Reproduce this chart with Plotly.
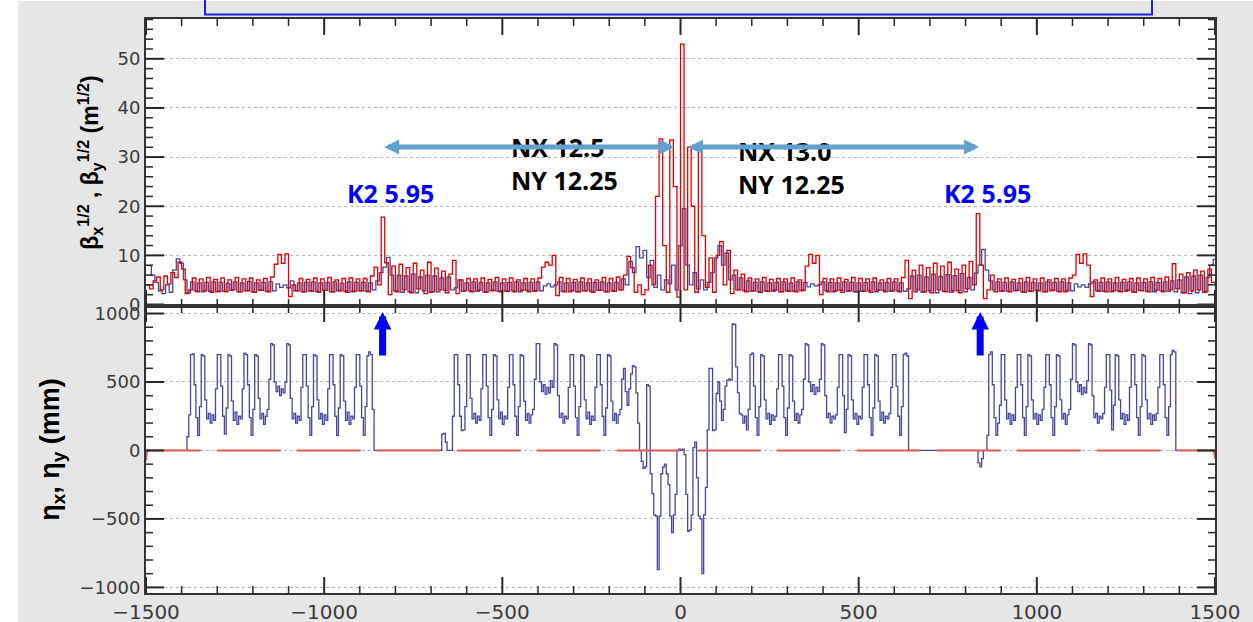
import plotly.graph_objects as go

# ---------------- data ----------------
BETA_S0, BETA_DS = -1500, 10
BETA_Y_OFFSET = 5   # beta_y samples sit half a step after beta_x samples (QD vs QF)

# sqrt(beta_x) [m^1/2]  (red)
sqrt_beta_x = [
    4.0, 3.2, 4.8, 5.6, 3.0, 5.8, 4.2, 6.5, 5.5, 8.6, 7.2, 2.2, 3.0, 5.4, 2.6, 5.2, 2.8, 5.5, 2.5, 5.1,
    2.7, 5.4, 2.6, 5.0, 3.0, 5.5, 2.6, 5.2, 2.8, 5.4, 2.5, 5.0, 2.9, 5.3, 2.6, 5.6, 8.2, 10.2, 8.4, 10.3,
    1.6, 4.0, 2.8, 5.3, 2.6, 5.1, 2.7, 5.4, 2.5, 5.2, 2.9, 5.5, 2.6, 5.0, 2.8, 5.3, 2.5, 5.4, 2.7, 5.2,
    2.8, 5.3, 2.6, 5.8, 7.6, 4.0, 17.8, 8.5, 2.0, 7.8, 2.6, 8.2, 3.0, 7.5, 2.4, 8.4, 3.2, 7.0, 2.2, 8.6,
    2.6, 7.4, 3.0, 6.8, 2.4, 6.2, 9.0, 2.2, 5.0, 2.8, 5.3, 2.6, 5.2, 2.9, 5.4, 2.5, 5.1, 2.8, 5.5, 2.6,
    5.2, 2.7, 5.4, 2.6, 5.0, 2.9, 5.3, 2.6, 5.2, 2.8, 5.4, 7.6, 8.6, 8.0, 10.0, 1.8, 5.5, 2.6, 5.3, 2.8,
    5.1, 2.6, 5.4, 2.8, 5.2, 2.5, 5.0, 2.9, 5.5, 2.6, 5.3, 2.7, 5.6, 3.0, 6.0, 9.8, 7.5, 2.5, 4.0, 2.0,
    3.0, 8.0, 4.0, 22.0, 33.7, 12.0, 2.5, 33.5, 24.0, 1.5, 53.0, 3.0, 32.0, 20.0, 2.5, 31.5, 14.0, 3.5, 9.5, 2.5,
    10.0, 12.8, 4.0, 11.0, 2.2, 7.0, 3.0, 6.2, 2.6, 5.4, 2.8, 5.2, 2.5, 5.5, 2.7, 5.1, 2.9, 5.3, 2.6, 5.2,
    2.7, 5.4, 2.6, 5.0, 2.9, 7.8, 10.2, 8.4, 10.0, 2.0, 5.3, 2.6, 5.2, 2.8, 5.4, 2.5, 5.1, 2.8, 5.5, 2.6,
    5.3, 2.7, 5.2, 2.5, 5.4, 2.9, 5.0, 2.6, 5.3, 2.8, 5.2, 2.6, 5.5, 9.0, 1.2, 7.0, 3.0, 8.0, 2.6, 7.5,
    2.4, 8.4, 3.0, 7.8, 2.6, 8.6, 2.8, 7.2, 2.4, 8.0, 3.2, 8.8, 4.0, 18.5, 8.0, 1.2, 3.0, 6.0, 2.6, 5.2,
    2.8, 5.4, 2.6, 5.1, 2.9, 5.3, 2.5, 5.5, 2.7, 5.2, 2.8, 5.4, 2.6, 5.0, 2.9, 5.3, 2.6, 5.2, 2.8, 5.4,
    6.0, 10.2, 8.4, 10.3, 8.0, 1.6, 5.0, 2.7, 5.4, 2.6, 5.2, 2.8, 5.5, 2.6, 5.1, 2.9, 5.3, 2.5, 5.4, 2.8,
    5.2, 2.6, 5.5, 2.9, 5.3, 2.6, 5.6, 3.0, 8.3, 3.2, 6.2, 2.4, 6.5, 2.8, 7.0, 3.0, 6.8, 2.6, 7.2, 4.5,
    4.0,
]

# sqrt(beta_y) [m^1/2]  (blue)
sqrt_beta_y = [
    7.9, 6.0, 4.5, 2.8, 2.2, 4.0, 2.5, 7.0, 9.3, 8.4, 5.0, 2.4, 4.6, 2.8, 4.4, 2.6, 4.5, 2.7, 4.6, 2.6,
    4.5, 2.7, 4.3, 2.9, 4.6, 2.6, 4.4, 2.8, 4.7, 2.6, 4.4, 2.9, 4.5, 2.7, 4.6, 2.8, 4.2, 3.5, 4.0, 3.4,
    4.8, 2.8, 4.4, 2.6, 4.5, 2.8, 4.6, 2.7, 4.4, 2.9, 4.5, 2.6, 4.6, 2.8, 4.3, 2.7, 4.6, 2.6, 4.5, 2.8,
    4.5, 2.7, 4.4, 3.0, 4.8, 6.5, 7.6, 9.6, 6.0, 2.8, 6.0, 2.5, 5.8, 2.6, 6.2, 2.4, 5.6, 2.8, 6.0, 2.5,
    5.8, 2.6, 5.4, 2.9, 5.6, 3.0, 3.4, 5.0, 2.7, 4.4, 2.8, 4.6, 2.7, 4.5, 2.6, 4.4, 2.9, 4.6, 2.7, 4.4,
    2.7, 4.5, 2.8, 4.6, 2.6, 4.4, 2.9, 4.5, 2.7, 4.6, 2.8, 3.8, 4.2, 3.6, 4.0, 4.6, 2.7, 4.4, 2.6, 4.5,
    2.6, 4.6, 2.8, 4.4, 2.7, 4.5, 2.9, 4.6, 2.6, 4.4, 2.8, 4.5, 3.0, 5.2, 4.0, 8.8, 6.5, 11.8, 9.5, 11.0,
    5.5, 9.0, 3.5, 6.0, 3.0, 5.0, 4.2, 8.0, 3.0, 12.0, 19.5, 8.0, 4.0, 6.5, 3.2, 5.0, 3.0, 4.5, 6.5, 9.5,
    12.0, 8.0, 10.5, 5.0, 6.0, 3.0, 5.4, 2.8, 4.8, 2.7, 4.5, 2.6, 4.6, 2.8, 4.4, 2.7, 4.5, 2.6, 4.6, 2.8,
    4.4, 2.7, 4.6, 2.8, 4.5, 3.6, 4.2, 3.8, 4.0, 4.6, 2.8, 4.5, 2.6, 4.4, 2.9, 4.6, 2.7, 4.5, 2.6, 4.4,
    2.7, 4.5, 2.8, 4.6, 2.6, 4.4, 2.9, 4.5, 2.7, 4.6, 2.8, 4.4, 2.7, 3.2, 5.8, 2.6, 6.0, 2.5, 5.6, 2.8,
    6.2, 2.4, 5.7, 2.7, 6.1, 2.5, 5.9, 2.8, 6.3, 2.6, 5.5, 3.0, 6.4, 8.0, 11.2, 7.0, 4.8, 3.0, 4.6, 2.7,
    4.5, 2.7, 4.6, 2.8, 4.4, 2.6, 4.6, 2.7, 4.5, 2.9, 4.4, 2.6, 4.6, 2.8, 4.5, 2.7, 4.6, 2.6, 4.4, 2.8,
    4.2, 3.6, 4.0, 3.5, 4.2, 4.6, 2.8, 4.5, 2.7, 4.6, 2.6, 4.4, 2.8, 4.5, 2.7, 4.6, 2.6, 4.4, 2.9, 4.5,
    2.7, 4.6, 2.6, 4.5, 2.8, 4.6, 2.7, 4.8, 2.6, 5.0, 2.4, 5.6, 2.2, 5.8, 2.4, 6.0, 2.5, 5.5, 8.0, 9.2,
    7.5,
]

# horizontal dispersion eta_x [mm]; arcs sampled every 5 m, zero in the straights
ETA_S0, ETA_S1, ETA_DS = -1500, 1500, 5

eta_arc_left_outer_start = -1395
eta_arc_left_outer = [
    0, 0, 100, 260, 700, 705, 480, 240, 110, 320, 700, 690, 370, 230, 270, 200, 260, 220, 450,
    700, 700, 470, 250, 120, 310, 700, 690, 360, 220, 280, 190, 250, 230, 450,
    710, 700, 480, 240, 110, 300, 700, 690, 380, 230, 270, 190, 250, 300, 520,
    780, 770, 500, 430, 470, 400, 450, 420, 500, 780, 770, 380, 230, 270, 200, 250, 220, 460,
    700, 700, 470, 240, 110, 320, 700, 690, 370, 230, 270, 190, 260, 220, 450,
    700, 700, 480, 250, 110, 310, 700, 690, 360, 220, 280, 190, 250, 230, 460,
    700, 700, 470, 240, 110, 320, 690, 720, 700, 300, 0,
]

eta_arc_left_inner_start = -675
eta_arc_left_inner = [
    0, 120, 125, 60, 0, 0, 0, 250,
    700, 700, 480, 250, 145, 150, 320, 700, 700, 380, 230, 270, 200, 250, 220, 450,
    700, 700, 470, 240, 110, 300, 700, 690, 370, 230, 280, 190, 250, 230, 460,
    700, 700, 480, 250, 110, 320, 700, 690, 360, 220, 270, 200, 260, 300, 520,
    780, 780, 500, 430, 480, 410, 460, 420, 510, 460, 780, 770, 400, 240, 270, 200, 250, 230, 460,
    700, 700, 470, 240, 110, 320, 700, 690, 370, 230, 280, 190, 250, 220, 460,
    700, 700, 480, 250, 110, 310, 700, 690, 360, 220, 270, 200, 260, 300, 520,
    600, 430, 330, 450, 560, 620, 610, 420, 200,
]

eta_center_start = -115
eta_center = [
    0, -80, -130, -120, 480, 470, -170, -315, -470, -480, -870, -480, -170, -120, -100,
    -170, -250, -480, -600, -470, -320, 0, 10, 0, 10, -30, -320, -590, -580, -470,
    20, 60, -200, -480, -500, -900, -470, -270, 150,
]

eta_arc_right_inner_start = 80
eta_arc_right_inner = [
    600, 600, 145, 150, 416, 500, 360, 220, 300, 470, 513, 520, 513, 925, 920, 610, 420, 270,
    260, 200, 250, 150, 300,
    700, 710, 470, 240, 110, 320, 700, 690, 370, 230, 270, 190, 260, 220, 250, 450,
    700, 700, 470, 240, 110, 310, 700, 690, 360, 220, 270, 200, 260, 300, 520,
    780, 770, 500, 430, 480, 410, 460, 430, 520, 780, 770, 400, 240, 270, 200, 250, 230, 260, 460,
    700, 700, 400, 130, 300, 700, 690, 370, 230, 270, 190, 250, 230, 460,
    700, 700, 480, 240, 110, 310, 700, 690, 360, 220, 280, 200, 250, 230, 270, 460,
    700, 700, 470, 250, 110, 320, 700, 710, 690, 0,
]

eta_arc_right_outer_start = 830
eta_arc_right_outer = [
    0, -90, -120, -60, 0, 0, 110,
    700, 720, 480, 240, 110, 200, 330, 700, 700, 370, 230, 270, 190, 260, 220, 460,
    700, 700, 480, 240, 110, 320, 700, 690, 370, 230, 270, 190, 260, 220, 300, 460,
    700, 700, 480, 240, 110, 320, 700, 690, 370, 230, 270, 190, 260, 300, 520,
    780, 770, 500, 430, 480, 410, 460, 420, 510, 780, 770, 400, 240, 270, 200, 250, 230, 270, 460,
    700, 700, 440, 150, 330, 700, 690, 370, 230, 270, 190, 260, 220, 460,
    700, 700, 480, 240, 110, 320, 700, 690, 370, 230, 270, 190, 260, 220, 270, 460,
    700, 700, 480, 240, 110, 320, 700, 730, 720, 0,
]

# vertical dispersion eta_y [mm]: zero except tiny kinks at both ends
eta_y_s = [-1500, -1497, 1497, 1500]
eta_y = [-75, 0, 0, -60]

# axis ranges and tick values
X_RANGE = [-1500, 1500]
Y1_RANGE = [-0.3, 58.1]
Y2_RANGE = [-1041, 1055]
x_major = [-1500, -1000, -500, 0, 500, 1000, 1500]
x_minor = [v for v in range(-1500, 1501, 100) if v % 500]
y1_major = [0, 10, 20, 30, 40, 50]
y1_minor = [v for v in range(0, 59, 2) if v % 10]
y2_major = [-1000, -500, 0, 500, 1000]
y2_minor = [v for v in range(-1000, 1001, 100) if v % 500]

# ---------------- assemble series ----------------
s_beta_x = [BETA_S0 + BETA_DS * i for i in range(len(sqrt_beta_x))]
s_beta_y = [BETA_S0 + BETA_Y_OFFSET + BETA_DS * i for i in range(len(sqrt_beta_y))]

s_eta = list(range(ETA_S0, ETA_S1 + 1, ETA_DS))
eta_x = [0.0] * len(s_eta)
for start, seg in [
    (eta_arc_left_outer_start, eta_arc_left_outer),
    (eta_arc_left_inner_start, eta_arc_left_inner),
    (eta_center_start, eta_center),
    (eta_arc_right_inner_start, eta_arc_right_inner),
    (eta_arc_right_outer_start, eta_arc_right_outer),
]:
    i0 = (start - ETA_S0) // ETA_DS
    for k, v in enumerate(seg):
        if 0 <= i0 + k < len(eta_x):
            eta_x[i0 + k] = v

BLUE = "#47469f"
RED = "#e00000"
RED_LIGHT = "#e05a5a"
AXC = "#262626"
ARROW_C = "#62a0cd"

fig = go.Figure()
fig.add_trace(go.Scatter(x=s_beta_y, y=sqrt_beta_y, mode="lines",
                         line=dict(color=BLUE, width=1.3, shape="hv"),
                         xaxis="x", yaxis="y", hoverinfo="skip"))
fig.add_trace(go.Scatter(x=s_beta_x, y=sqrt_beta_x, mode="lines",
                         line=dict(color=RED, width=1.3, shape="hv"),
                         xaxis="x", yaxis="y", hoverinfo="skip"))
fig.add_trace(go.Scatter(x=s_eta, y=eta_x, mode="lines",
                         line=dict(color=BLUE, width=1.3, shape="hv"),
                         xaxis="x2", yaxis="y2", hoverinfo="skip"))
fig.add_trace(go.Scatter(x=eta_y_s, y=eta_y, mode="lines",
                         line=dict(color=RED_LIGHT, width=2, dash="64px,16px"),
                         xaxis="x2", yaxis="y2", hoverinfo="skip"))

# ---- inside tick marks on all four sides of both panels (drawn as line traces) ----
PANEL_W, PANEL_H = 1069.0, 287.0     # px size of each panel
PX_X = (X_RANGE[1] - X_RANGE[0]) / PANEL_W


def tick_segments(xv, yv, yr, len_x, len_y):
    px_y = (yr[1] - yr[0]) / PANEL_H
    xs, ys = [], []
    for v in xv:
        xs += [v, v, None, v, v, None]
        ys += [yr[1], yr[1] - len_x * px_y, None, yr[0], yr[0] + len_x * px_y, None]
    for v in yv:
        xs += [X_RANGE[0], X_RANGE[0] + len_y * PX_X, None, X_RANGE[1], X_RANGE[1] - len_y * PX_X, None]
        ys += [v, v, None, v, v, None]
    return xs, ys


for xa, ya, ymaj, ymin, yr in [("x", "y", y1_major, y1_minor, Y1_RANGE),
                               ("x2", "y2", y2_major, y2_minor, Y2_RANGE)]:
    mx, my = tick_segments(x_major, ymaj, yr, 16, 18)
    nx, ny = tick_segments(x_minor, ymin, yr, 7, 7)
    fig.add_trace(go.Scatter(x=mx, y=my, mode="lines", line=dict(color=AXC, width=2),
                             xaxis=xa, yaxis=ya, hoverinfo="skip"))
    fig.add_trace(go.Scatter(x=nx, y=ny, mode="lines", line=dict(color=AXC, width=1.5),
                             xaxis=xa, yaxis=ya, hoverinfo="skip"))

tick_font_y = dict(family="DejaVu Sans", size=18, color="#3a3a3a")
tick_font_x = dict(family="DejaVu Sans", size=20, color="#3a3a3a")
base = dict(showline=True, linecolor="#333333", linewidth=2, mirror=True, ticks="",
            zeroline=False, automargin=False, layer="above traces")

fig.update_layout(
    template="none",
    width=1253, height=622, autosize=False,
    margin=dict(l=146, r=38, t=19, b=29),
    paper_bgcolor="#e6e6e6", plot_bgcolor="white",
    showlegend=False,
    xaxis=dict(domain=[0, 1], anchor="y", range=X_RANGE, tickvals=x_major,
               showticklabels=False, showgrid=False, **base),
    xaxis2=dict(domain=[0, 1], anchor="y2", range=X_RANGE, tickvals=x_major,
                showgrid=False, tickfont=tick_font_x, **base),
    yaxis=dict(domain=[0.5, 1], anchor="x", range=Y1_RANGE, tickvals=y1_major,
               showgrid=True, gridcolor="#b4b4b4", griddash="dot", gridwidth=1,
               tickfont=tick_font_y,
               title=dict(text="<b>β<sub>x</sub><sup>1/2</sup> , β<sub>y</sub><sup>1/2</sup> (m<sup>1/2</sup>)</b>",
                          font=dict(family="Liberation Sans", size=23, color="black"), standoff=12),
               **base),
    yaxis2=dict(domain=[0, 0.5], anchor="x2", range=Y2_RANGE, tickvals=y2_major,
                showgrid=True, gridcolor="#b4b4b4", griddash="dot", gridwidth=1,
                tickfont=tick_font_y,
                title=dict(text="<b>η<sub>x</sub>, η<sub>y</sub> (mm)</b>",
                           font=dict(family="Liberation Sans", size=27, color="black"), standoff=12),
                **base),
)

# frame decorations: white strip at the left, cut title box at the top
fig.add_shape(type="rect", xref="paper", yref="paper", x0=-0.2, x1=-128 / 1069,
              y0=-0.1, y1=1.1, fillcolor="white", line=dict(width=0), layer="above")
fig.add_shape(type="rect", xref="paper", yref="paper", x0=-0.2, x1=1.1,
              y0=592 / 574, y1=1.1, fillcolor="white", line=dict(width=0), layer="above")
fig.add_shape(type="rect", xref="paper", yref="paper", x0=59 / 1069, x1=1006 / 1069,
              y0=(593 - 14.5) / 574, y1=1.08, fillcolor="rgba(0,0,0,0)",
              line=dict(color="#1f1fe6", width=2), layer="above")

txt_font = dict(family="Open Sans", size=25)
ann = []
ann.append(dict(x=-814, y=22.7, xref="x", yref="y", text="<b>K2 5.95</b>", showarrow=False,
                font=dict(color="#0000ff", **txt_font), xanchor="center", yanchor="middle"))
ann.append(dict(x=862, y=22.7, xref="x", yref="y", text="<b>K2 5.95</b>", showarrow=False,
                font=dict(color="#0000ff", **txt_font), xanchor="center", yanchor="middle"))
ann.append(dict(x=-482, y=28.6, xref="x", yref="y", text="<b>NX 12.5<br>NY 12.25</b>", showarrow=False,
                font=dict(color="black", **txt_font), xanchor="left", yanchor="middle", align="left"))
ann.append(dict(x=155, y=27.8, xref="x", yref="y", text="<b>NX 13.0<br>NY 12.25</b>", showarrow=False,
                font=dict(color="black", **txt_font), xanchor="left", yanchor="middle", align="left"))
# double-headed tune-section arrows
for xa, xb in [(-836, -17), (17, 838)]:
    ann.append(dict(x=xb, y=32.06, ax=xa, ay=32.06, xref="x", yref="y", axref="x", ayref="y",
                    text="", font=dict(size=1), showarrow=True, arrowhead=2, startarrowhead=2,
                    arrowside="end+start", arrowsize=0.6, startarrowsize=0.6, arrowwidth=5,
                    arrowcolor=ARROW_C, standoff=0, startstandoff=0))
# K2 location markers
for xk in [-836, 841]:
    ann.append(dict(x=xk, y=1011, ax=xk, ay=682, xref="x2", yref="y2", axref="x2", ayref="y2",
                    text="", font=dict(size=1), showarrow=True, arrowhead=2, arrowsize=0.5,
                    arrowwidth=7, arrowcolor="#0000ff", standoff=0))
fig.update_layout(annotations=ann)

fig.write_html("out.html")
